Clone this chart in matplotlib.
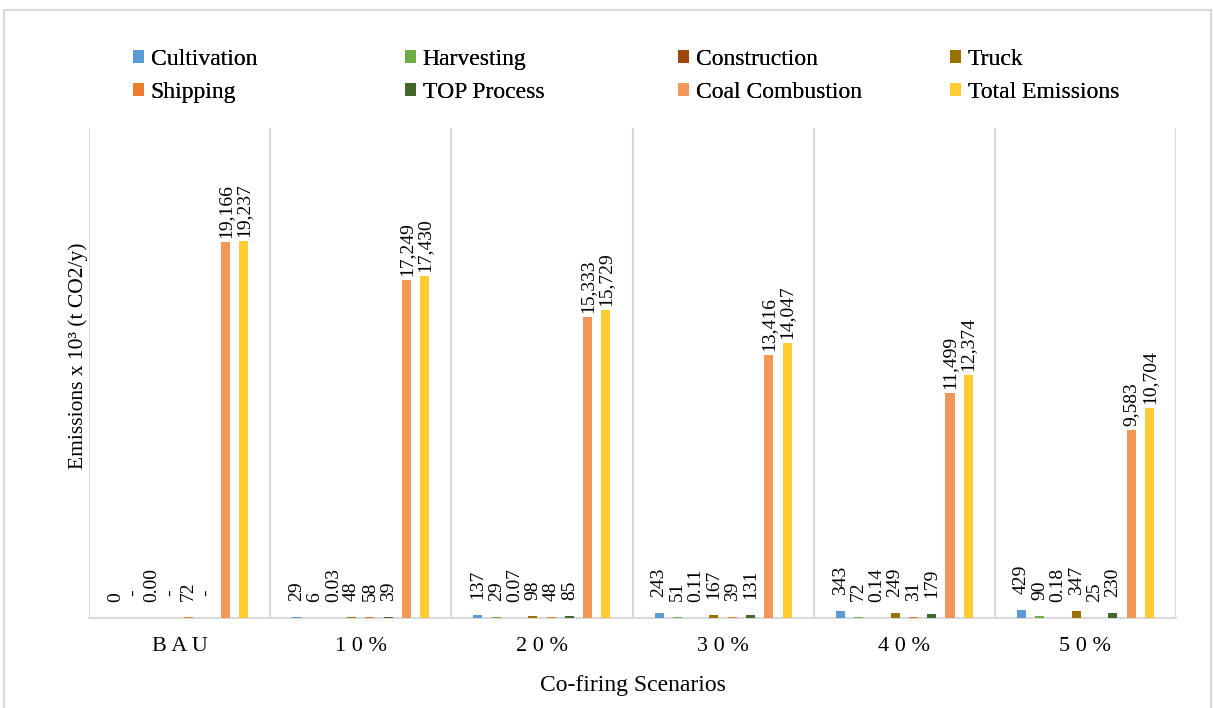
import matplotlib

matplotlib.use("Agg")
import matplotlib.pyplot as plt
import numpy as np
from matplotlib.patches import Patch, Rectangle

plt.rcParams["font.family"] = ["Liberation Serif", "DejaVu Serif"]

scenarios = ["B A U", "1 0 %", "2 0 %", "3 0 %", "4 0 %", "5 0 %"]
series = ["Cultivation", "Harvesting", "Construction", "Truck",
          "Shipping", "TOP Process", "Coal Combustion", "Total Emissions"]
colors = ["#5B9BD5", "#70AD47", "#9E480E", "#997300",
          "#ED7D31", "#43682B", "#F1975A", "#FFCD33"]

# emissions x 10^3 t CO2/y, one list per series, one value per scenario
cultivation = [0, 29, 137, 243, 343, 429]
harvesting = [0, 6, 29, 51, 72, 90]
construction = [0.00, 0.03, 0.07, 0.11, 0.14, 0.18]
truck = [0, 48, 98, 167, 249, 347]
shipping = [72, 58, 48, 39, 31, 25]
top_process = [0, 39, 85, 131, 179, 230]
coal = [19166, 17249, 15333, 13416, 11499, 9583]
total = [19237, 17430, 15729, 14047, 12374, 10704]
values = [cultivation, harvesting, construction, truck,
          shipping, top_process, coal, total]


def fmt(name, v):
    if name == "Construction":
        return f"{v:.2f}"
    if v == 0 and name != "Cultivation":
        return "-"
    return f"{v:,.0f}"


W, H = 1213, 708
fig = plt.figure(figsize=(W / 100, H / 100), dpi=100)
ax = fig.add_axes([89 / W, 1 - 618 / H, (1176 - 89) / W, (618 - 128) / H])

x = np.arange(len(scenarios))
slot = 0.101
bw = 0.05
for i, (name, vals, col) in enumerate(zip(series, values, colors)):
    xs = x + (i - 3.5) * slot
    ax.bar(xs, vals, width=bw, color=col, zorder=3)
    for xi, v in zip(xs, vals):
        lab = fmt(name, v)
        if v > 1000:
            off = 4
        elif lab == "-":
            off = 22
        else:
            off = 16
        ax.annotate(lab, (xi, v), xytext=(0, off), textcoords="offset pixels",
                    rotation=90, ha="center", va="bottom", fontsize=14)

ax.set_xlim(-0.5, len(scenarios) - 0.5)
ax.set_ylim(0, 25000)
for b in np.arange(-0.5, len(scenarios), 1):
    ax.axvline(b, color="#D9D9D9", lw=1.5, zorder=1)
for s in ["top", "left", "right"]:
    ax.spines[s].set_visible(False)
ax.spines["bottom"].set_color("#D9D9D9")
ax.spines["bottom"].set_linewidth(1.5)
ax.set_yticks([])
ax.set_xticks(x)
ax.set_xticklabels(scenarios, fontsize=16)
ax.tick_params(axis="x", length=0, pad=14)
ax.set_xlabel("Co-firing Scenarios", fontsize=17, labelpad=13)
fig.text(78 / W, 1 - 356 / H, "Emissions x 10³ (t CO2/y)", rotation=90,
         ha="center", va="center", fontsize=15.5)

# legend: four evenly spaced columns of two entries
col_x = [133, 405, 678, 950]
for c in range(4):
    idx = [c, c + 4]
    handles = [Patch(facecolor=colors[j], edgecolor="none", label=series[j]) for j in idx]
    leg = fig.legend(handles=handles, loc="upper left",
                     bbox_to_anchor=(col_x[c] / W, 1 - 49 / H),
                     frameon=False, fontsize=17, borderpad=0, borderaxespad=0,
                     handlelength=0.45, handleheight=0.45, handletextpad=0.3,
                     labelspacing=0.5)
    fig.add_artist(leg)

fig.add_artist(Rectangle((4 / W, -0.02), (1211 - 4) / W, 0.02 + 1 - 10 / H,
                         transform=fig.transFigure, fill=False,
                         edgecolor="#D9D9D9", lw=1.5))

fig.savefig("out.png", dpi=100)
